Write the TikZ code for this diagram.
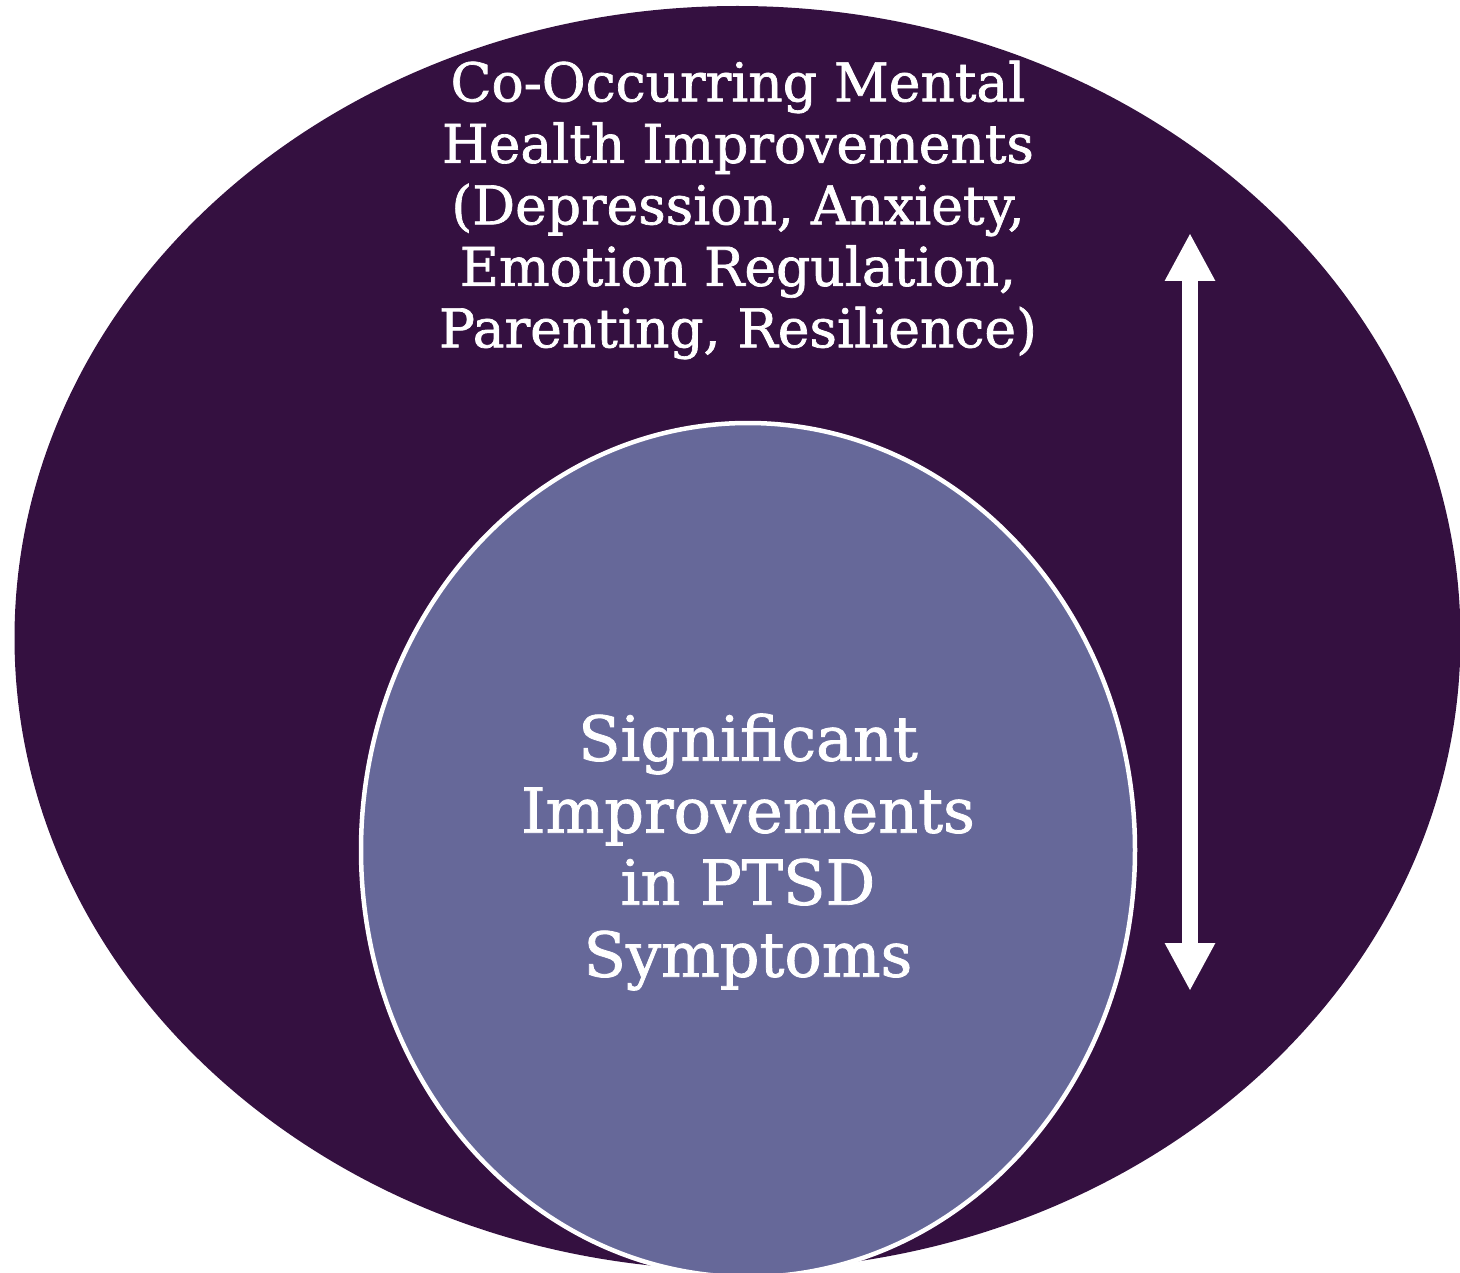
\documentclass[tikz,border=0pt]{standalone}
\usepackage{fontspec}
\setmainfont{DejaVu Serif}[RawFeature={embolden=1.3}]
\usetikzlibrary{shapes.geometric,arrows.meta}
\definecolor{outerpurple}{HTML}{341040}
\definecolor{innerpurple}{HTML}{666899}
\tikzset{
  outerblob/.style={ellipse, fill=outerpurple, draw=none, inner sep=0pt,
    minimum width=1446pt, minimum height=1264pt},
  innerblob/.style={ellipse, fill=innerpurple, draw=white, line width=4.5pt, inner sep=0pt,
    minimum width=774pt, minimum height=854pt},
  toptext/.style={text=white, align=center, font=\fontsize{53.5}{61.5}\selectfont},
  innertext/.style={text=white, align=center, font=\fontsize{62}{72}\selectfont},
  bothways/.style={draw=white, line width=16pt,
    {Triangle[width=47pt,length=48pt]}-{Triangle[width=47pt,length=48pt]}}
}
\begin{document}
\begin{tikzpicture}[x=1pt,y=-1pt]
\useasboundingbox (0,0) rectangle (1460,1273);
\clip (0,0) rectangle (1460,1273);
\node[outerblob] (outer) at (737.5,638) {};
\node[innerblob] (inner) at (748,850) {};
\node[toptext] (co) at (738,210) {Co-Occurring Mental\\Health Improvements\\(Depression, Anxiety,\\Emotion Regulation,\\Parenting, Resilience)};
\node[innertext] (ptsd) at (748,852) {Significant\\Improvements\\in PTSD\\Symptoms};
\coordinate (atop) at (1190,233);
\coordinate (abot) at (1190,991);
\draw[bothways] (atop) -- (abot);
\end{tikzpicture}
\end{document}
